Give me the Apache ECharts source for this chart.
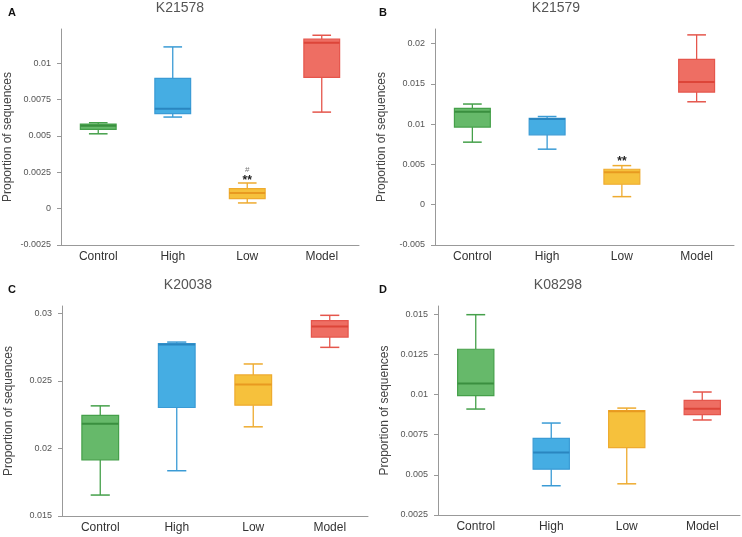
<!DOCTYPE html>
<html>
<head>
<meta charset="utf-8">
<script src="https://cdn.jsdelivr.net/npm/echarts@6/dist/echarts.min.js"></script>
<style>
  html, body { margin: 0; padding: 0; background: #fff; }
  #chart { width: 742px; height: 537px; }
</style>
</head>
<body>
<div id="chart"></div>
<script>
// groups on every panel
var groups = ['Control', 'High', 'Low', 'Model'];

// boxes: [min, q1, median, q3, max] per group
var boxA = [
  [0.00514, 0.00544, 0.00569, 0.00581, 0.00590],
  [0.00629, 0.00652, 0.00686, 0.00895, 0.01111],
  [0.00039, 0.00069, 0.00107, 0.00138, 0.00176],
  [0.00663, 0.00902, 0.01140, 0.01164, 0.01191]
];
var boxB = [
  [0.00776, 0.00963, 0.01153, 0.01194, 0.01249],
  [0.00689, 0.00867, 0.01062, 0.01070, 0.01094],
  [0.00100, 0.00254, 0.00403, 0.00440, 0.00485],
  [0.01277, 0.01398, 0.01522, 0.01803, 0.02107]
];
var boxC = [
  [0.01655, 0.01916, 0.02182, 0.02244, 0.02315],
  [0.01835, 0.02303, 0.02770, 0.02776, 0.02787],
  [0.02160, 0.02320, 0.02473, 0.02544, 0.02625],
  [0.02748, 0.02824, 0.02903, 0.02946, 0.02985]
];
var boxD = [
  [0.00909, 0.00992, 0.01068, 0.01281, 0.01496],
  [0.00432, 0.00535, 0.00638, 0.00727, 0.00822],
  [0.00444, 0.00669, 0.00895, 0.00899, 0.00915],
  [0.00841, 0.00874, 0.00911, 0.00963, 0.01015]
];

// significance marks over the boxes
var starsA = ['', '', '**', ''];
var hashA = ['', '', '#', ''];
var starsB = ['', '', '**', ''];

// y tick values
var ticksA = [-0.0025, 0, 0.0025, 0.005, 0.0075, 0.01];
var ticksB = [-0.005, 0, 0.005, 0.01, 0.015, 0.02];
var ticksC = [0.015, 0.02, 0.025, 0.03];
var ticksD = [0.0025, 0.005, 0.0075, 0.01, 0.0125, 0.015];

var titles = ['K21578', 'K21579', 'K20038', 'K08298'];
var letters = ['A', 'B', 'C', 'D'];

var fills = ['#66b96a', '#45ade3', '#f6c13c', '#ee6e63'];
var edges = ['#45a04a', '#3a9bd5', '#eeab2f', '#e5564c'];
var medians = ['#3a8f3f', '#2a86c0', '#e89a20', '#dd4539'];

var font = 'Liberation Sans, Arial, sans-serif';

var grids = [
  {left: 61, top: 29, width: 298, height: 216},
  {left: 435, top: 29, width: 299, height: 216},
  {left: 62, top: 306, width: 306, height: 210},
  {left: 438, top: 306, width: 302, height: 209}
];
var titleX = [180, 556, 188, 558];
var ranges = [[-0.0025, 0.01234], [-0.005, 0.0218], [0.015, 0.03054], [0.0025, 0.0155]];
var allTicks = [ticksA, ticksB, ticksC, ticksD];
var allBoxes = [boxA, boxB, boxC, boxD];
var allStars = [starsA, starsB, ['', '', '', ''], ['', '', '', '']];
var allHash = [hashA, ['', '', '', ''], ['', '', '', ''], ['', '', '', '']];

function renderBox(params, api) {
  var i = api.value(0);
  var x = api.coord([i, api.value(1)])[0];
  var yMin = api.coord([i, api.value(1)])[1];
  var yQ1 = api.coord([i, api.value(2)])[1];
  var yMed = api.coord([i, api.value(3)])[1];
  var yQ3 = api.coord([i, api.value(4)])[1];
  var yMax = api.coord([i, api.value(5)])[1];
  var band = api.size([1, 0])[0];
  var bw = band * 0.48;
  var cw = band * 0.25;
  var c = edges[i];
  var kids = [
    {type: 'line', shape: {x1: x, y1: yMax, x2: x, y2: yQ3}, style: {stroke: c, lineWidth: 1.3}},
    {type: 'line', shape: {x1: x, y1: yQ1, x2: x, y2: yMin}, style: {stroke: c, lineWidth: 1.3}},
    {type: 'line', shape: {x1: x - cw / 2, y1: yMax, x2: x + cw / 2, y2: yMax}, style: {stroke: c, lineWidth: 1.5}},
    {type: 'line', shape: {x1: x - cw / 2, y1: yMin, x2: x + cw / 2, y2: yMin}, style: {stroke: c, lineWidth: 1.5}},
    {type: 'rect', shape: {x: x - bw / 2, y: yQ3, width: bw, height: yQ1 - yQ3}, style: {fill: fills[i], stroke: c, lineWidth: 1.2}},
    {type: 'line', shape: {x1: x - bw / 2, y1: yMed, x2: x + bw / 2, y2: yMed}, style: {stroke: medians[i], lineWidth: 2}}
  ];
  var s = api.value(6), h = api.value(7);
  if (s) {
    kids.push({type: 'text', x: x, y: yMax - (h ? 8 : 10), style: {text: s, fill: '#222', font: 'bold 12px ' + font, align: 'center', verticalAlign: 'top'}});
  }
  if (h) {
    kids.push({type: 'text', x: x, y: yMax - 13, style: {text: h, fill: '#777', font: '8px ' + font, align: 'center', verticalAlign: 'middle'}});
  }
  return {type: 'group', children: kids};
}

var option = {
  animation: false,
  backgroundColor: '#fff',
  title: [],
  graphic: [],
  grid: [],
  xAxis: [],
  yAxis: [],
  series: []
};

for (var k = 0; k < 4; k++) {
  var g = grids[k];
  var titleY = k < 2 ? 8.5 : 285;
  option.grid.push(g);
  option.graphic.push({
    type: 'text', x: titleX[k], y: titleY,
    style: {text: titles[k], font: '14px ' + font, fill: '#555', align: 'center', verticalAlign: 'middle'}
  });
  option.title.push({
    text: letters[k], left: k % 2 ? 374 : 3, top: titleY - 6,
    textStyle: {fontSize: 11, fontWeight: 'bold', color: '#111', fontFamily: font}
  });
  option.xAxis.push({
    type: 'category', gridIndex: k, data: groups,
    axisLine: {onZero: false, lineStyle: {color: '#999'}},
    axisTick: {length: 4, lineStyle: {color: '#999'}},
    axisLabel: {color: '#333', fontSize: 12, margin: 6, fontFamily: font}
  });
  option.yAxis.push({
    type: 'value', gridIndex: k, min: ranges[k][0], max: ranges[k][1],
    name: 'Proportion of sequences', nameLocation: 'middle', nameGap: 47,
    nameTextStyle: {color: '#444', fontSize: 12, fontFamily: font},
    splitLine: {show: false},
    axisLine: {show: true, onZero: false, lineStyle: {color: '#999'}},
    axisTick: {show: true, length: 4, lineStyle: {color: '#999'}, customValues: allTicks[k]},
    axisLabel: {color: '#555', fontSize: 9, margin: 10, fontFamily: font, customValues: allTicks[k],
      formatter: function (v) { return String(v); }}
  });
  var rows = allBoxes[k].map(function (b, i) {
    return [i, b[0], b[1], b[2], b[3], b[4], allStars[k][i], allHash[k][i]];
  });
  option.series.push({
    type: 'custom', xAxisIndex: k, yAxisIndex: k, renderItem: renderBox,
    encode: {x: 0, y: [1, 2, 3, 4, 5]}, data: rows, clip: false
  });
}

var chart = echarts.init(document.getElementById('chart'), null, {renderer: 'canvas'});
chart.setOption(option);
</script>
</body>
</html>
